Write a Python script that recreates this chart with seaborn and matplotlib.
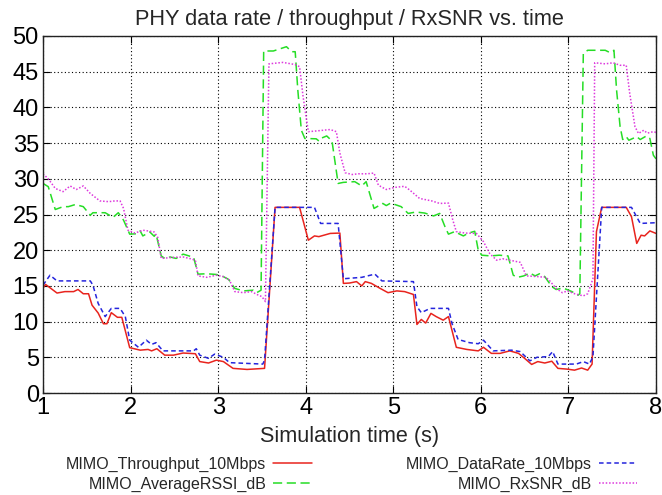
import numpy as np
import pandas as pd
import matplotlib
matplotlib.use("Agg")
import matplotlib.pyplot as plt
import seaborn as sns

# ---------------- data ----------------
thr_t = [1.00,1.03,1.16,1.25,1.35,1.40,1.46,1.52,1.56,1.63,1.69,1.73,1.78,1.85,1.90,1.99,2.11,2.20,2.24,2.30,
         2.39,2.49,2.60,2.74,2.79,2.89,2.98,3.06,3.17,3.33,3.53,3.65,3.93,4.03,4.10,4.15,4.28,4.39,4.43,4.50,
         4.58,4.64,4.68,4.75,4.85,4.94,5.04,5.13,5.23,5.27,5.32,5.37,5.43,5.49,5.57,5.63,5.72,5.84,5.97,6.03,
         6.12,6.22,6.33,6.43,6.50,6.58,6.65,6.73,6.81,6.88,6.98,7.07,7.15,7.22,7.27,7.32,7.38,7.66,7.72,7.78,
         7.83,7.87,7.93,8.00]
thr_v = [14.7,15.2,14.0,14.2,14.2,14.5,13.9,13.9,12.3,11.2,9.7,9.7,11.25,10.6,10.6,6.35,6.0,6.1,5.9,6.2,
         5.3,5.3,5.6,5.5,4.4,4.2,4.6,4.4,3.45,3.3,3.45,26.0,26.0,21.4,22.0,21.9,22.35,22.4,15.35,15.4,
         15.6,15.0,15.6,15.35,14.65,14.05,14.3,14.2,13.8,9.6,10.3,9.8,11.15,10.7,10.2,10.7,6.4,6.1,5.9,6.4,
         5.55,5.55,5.9,5.55,4.85,4.0,4.4,4.2,4.45,3.45,3.35,3.2,3.5,3.2,4.05,22.6,26.0,26.0,24.7,20.95,
         22.1,22.0,22.7,22.35]

dr_t = [1.00,1.08,1.16,1.54,1.57,1.63,1.71,1.78,1.88,1.94,1.99,2.09,2.18,2.24,2.29,2.37,2.72,2.75,2.79,2.89,
        2.96,3.06,3.13,3.51,3.53,3.65,4.10,4.17,4.37,4.43,4.64,4.79,4.87,5.23,5.27,5.32,5.42,5.63,5.67,5.74,
        5.87,5.97,6.03,6.14,6.35,6.45,6.56,6.64,6.77,6.82,6.88,7.09,7.17,7.24,7.28,7.38,7.72,7.82,8.00]
dr_v = [15.1,16.5,15.7,15.7,15.1,12.55,10.7,11.85,11.85,10.7,7.4,6.4,7.4,6.8,7.05,5.9,5.9,6.2,5.3,4.85,
        5.45,5.0,4.25,4.05,4.6,26.0,26.0,23.75,23.75,16.0,16.2,16.65,15.7,15.6,12.1,11.25,11.85,11.85,9.75,7.5,
        7.05,6.9,7.4,5.9,6.0,5.8,4.5,5.0,5.1,5.8,4.05,4.05,4.4,4.05,5.1,26.0,26.0,23.75,23.85]

rs_t = [1.00,1.06,1.14,1.23,1.29,1.37,1.46,1.54,1.57,1.71,1.80,1.86,1.92,1.99,2.07,2.11,2.14,2.22,2.27,2.29,
        2.35,2.39,2.45,2.52,2.60,2.72,2.77,2.87,2.98,3.06,3.12,3.19,3.29,3.40,3.44,3.49,3.52,3.63,3.78,3.84,
        3.88,3.91,3.95,3.99,4.12,4.15,4.17,4.24,4.30,4.37,4.43,4.56,4.64,4.69,4.78,4.88,4.92,4.97,5.09,5.17,
        5.26,5.36,5.46,5.53,5.59,5.63,5.70,5.80,5.86,5.93,5.97,6.01,6.11,6.21,6.31,6.37,6.42,6.49,6.56,6.62,
        6.67,6.73,6.81,6.86,6.94,7.04,7.11,7.13,7.17,7.22,7.42,7.47,7.52,7.55,7.59,7.62,7.66,7.69,7.78,7.82,
        7.89,7.93,7.97,8.00]
rs_v = [29.35,28.9,25.7,26.1,26.1,26.4,26.1,24.9,25.25,25.25,24.6,25.25,24.2,22.25,22.3,22.7,22.0,22.55,21.95,22.3,
        19.2,18.85,19.05,18.85,19.45,19.0,16.65,16.7,16.6,16.3,15.9,14.65,14.3,14.4,14.05,14.4,47.9,47.9,48.5,47.8,
        47.8,42.4,36.8,35.65,35.6,35.3,35.65,36.0,35.3,29.35,29.5,29.6,29.0,29.6,25.85,26.55,26.25,26.6,26.1,25.15,
        25.35,25.2,24.8,25.15,23.3,22.25,22.6,22.0,22.4,22.65,20.0,19.3,19.2,19.3,19.2,16.5,16.2,16.4,16.8,16.4,
        16.7,16.3,14.9,14.5,14.7,14.2,13.7,13.9,47.55,48.0,48.0,47.7,48.0,42.4,37.3,35.5,35.9,35.4,35.9,35.5,
        36.0,35.65,33.3,32.8]

sn_t = [1.00,1.06,1.14,1.23,1.31,1.38,1.46,1.54,1.65,1.75,1.82,1.88,1.92,1.97,2.05,2.14,2.20,2.27,2.31,2.35,
        2.49,2.60,2.67,2.74,2.77,2.87,2.98,3.06,3.13,3.19,3.29,3.38,3.46,3.50,3.54,3.58,3.74,3.88,3.93,3.97,
        4.03,4.12,4.28,4.35,4.39,4.45,4.53,4.60,4.70,4.78,4.83,4.92,5.02,5.13,5.19,5.30,5.44,5.53,5.63,5.68,
        5.72,5.82,5.95,6.03,6.10,6.18,6.25,6.33,6.45,6.52,6.65,6.74,6.78,6.86,6.93,6.99,7.07,7.17,7.22,7.26,
        7.28,7.30,7.42,7.51,7.59,7.66,7.70,7.76,7.80,7.86,7.90,7.97,8.00]
sn_v = [30.7,30.0,28.65,28.2,29.0,28.5,29.0,27.95,26.9,26.8,26.9,26.9,25.85,22.8,22.4,22.8,22.7,22.55,21.8,18.85,
        19.0,19.05,18.85,18.6,16.4,16.2,16.5,16.3,15.8,14.2,14.05,14.2,13.7,13.5,12.8,46.1,46.3,46.0,45.7,41.5,
        36.6,36.7,36.9,36.6,33.6,30.85,30.6,30.7,30.7,30.8,29.1,28.5,28.8,28.95,28.4,27.25,26.9,26.55,26.6,24.2,
        22.6,22.4,22.35,21.2,19.55,18.6,18.8,18.6,18.3,16.4,16.3,16.2,15.8,14.65,14.05,14.3,13.9,13.6,13.9,15.3,
        16.0,46.25,46.1,46.25,45.9,45.9,41.95,37.3,36.35,36.8,36.4,36.6,36.5]

series_names = ["MIMO_Throughput_10Mbps", "MIMO_AverageRSSI_dB", "MIMO_DataRate_10Mbps", "MIMO_RxSNR_dB"]
x_ticks = [1, 2, 3, 4, 5, 6, 7, 8]
y_ticks = [0, 5, 10, 15, 20, 25, 30, 35, 40, 45, 50]

# ---------------- style ----------------
sns.set_style("ticks")
plt.rcParams["font.family"] = ["Liberation Sans", "DejaVu Sans"]

fig = plt.figure(figsize=(6.62, 4.95), dpi=100)
ax = fig.add_axes([43/662, 1 - 393/495, (656 - 43)/662, (393 - 36)/495])

styles = {
    "MIMO_Throughput_10Mbps": dict(color="#e8241e", dashes=None),
    "MIMO_AverageRSSI_dB": dict(color="#26dd26", dashes=(6, 3)),
    "MIMO_DataRate_10Mbps": dict(color="#2525dd", dashes=(3, 2)),
    "MIMO_RxSNR_dB": dict(color="#dd38dd", dashes=(1, 1.2)),
}
data = {
    "MIMO_Throughput_10Mbps": (thr_t, thr_v),
    "MIMO_AverageRSSI_dB": (rs_t, rs_v),
    "MIMO_DataRate_10Mbps": (dr_t, dr_v),
    "MIMO_RxSNR_dB": (sn_t, sn_v),
}

for name in series_names:
    t, v = data[name]
    df = pd.DataFrame({"t": t, "v": v})
    st = styles[name]
    sns.lineplot(data=df, x="t", y="v", ax=ax, color=st["color"], linewidth=1.1,
                 label=name, estimator=None, sort=False)
    ln = ax.get_lines()[-1]
    if st["dashes"] is not None:
        ln.set_dashes(st["dashes"])

ax.set_xlim(1, 8)
ax.set_ylim(0, 50)
ax.set_xticks(x_ticks)
ax.set_yticks(y_ticks)
ax.tick_params(direction="in", top=True, right=True, length=5, width=0.8, labelsize=17, colors="black", pad=3)
ax.grid(True, linestyle=(0, (1, 2.2)), color="black", linewidth=0.8)
for s in ax.spines.values():
    s.set_color("#222222")
    s.set_linewidth(1.0)

ax.set_xlabel("Simulation time (s)", fontsize=15.6, labelpad=5)
ax.set_ylabel("")
ax.set_title("PHY data rate / throughput / RxSNR vs. time", fontsize=15.7, pad=8)

ax.get_legend().remove()
handles, labels = ax.get_legend_handles_labels()
fig.legend(handles, labels, ncol=2, markerfirst=False, frameon=False, fontsize=11.5,
           loc="upper left", bbox_to_anchor=(66/662, 1 - 457/495), borderaxespad=0, borderpad=0,
           handlelength=2.4, handletextpad=0.44, columnspacing=5.9, labelspacing=0.3)

fig.savefig("out.png", dpi=100)
